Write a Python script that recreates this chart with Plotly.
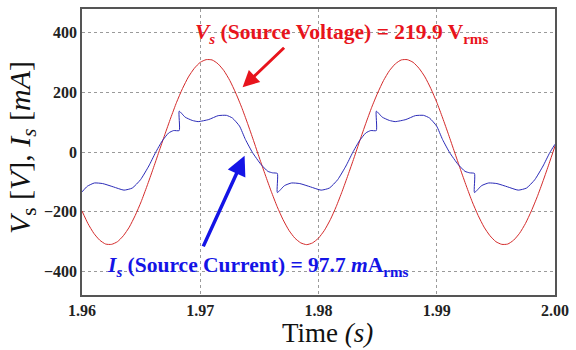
import plotly.graph_objects as go

# ---- data ----
t_v = [round(1.96 + 0.0005 * k, 4) for k in range(81)]
v_s = [-198, -240, -273, -296, -309, -310, -301, -281, -252, -213,
       -167, -114, -58, 0, 58, 114, 167, 213, 252, 281,
       301, 310, 309, 296, 273, 240, 198, 150, 96, 39,
       -20, -77, -132, -183, -227, -263, -289, -305, -311, -305,
       -289, -263, -227, -183, -132, -77, -20, 39, 96, 150,
       198, 240, 273, 296, 309, 310, 301, 281, 252, 213,
       167, 114, 58, 0, -58, -114, -167, -213, -252, -281,
       -301, -310, -309, -296, -273, -240, -198, -150, -96, -39, 20]

t_i = [1.96000, 1.96045, 1.96105, 1.96175, 1.96265, 1.96355, 1.96425, 1.96495,
       1.96565, 1.96622, 1.96678, 1.96733, 1.96775, 1.96822,
       1.96822, 1.96872, 1.96932, 1.96982, 1.97072, 1.97152, 1.97222, 1.97272,
       1.97332, 1.97382, 1.97442, 1.97512, 1.97572, 1.97612, 1.97652,
       1.97652, 1.97712, 1.97772, 1.97842, 1.97932, 1.98022, 1.98092, 1.98162,
       1.98232, 1.98289, 1.98345, 1.98400, 1.98442, 1.98489,
       1.98489, 1.98539, 1.98599, 1.98649, 1.98739, 1.98819, 1.98889, 1.98939,
       1.98999, 1.99049, 1.99109, 1.99179, 1.99239, 1.99279, 1.99319,
       1.99319, 1.99379, 1.99439, 1.99509, 1.99599, 1.99689, 1.99759, 1.99829,
       1.99899, 1.99956, 2.00000]
i_s = [-134, -115, -104, -106, -117, -128, -121, -93,
       -47, -2, 37, 64, 72, 72,
       137, 117, 106, 102, 109, 122, 123, 114,
       87, 42, -2, -41, -65, -70, -72,
       -136, -113, -104, -106, -117, -128, -121, -93,
       -47, -2, 37, 64, 72, 72,
       137, 117, 106, 102, 109, 122, 123, 114,
       87, 42, -2, -41, -65, -70, -72,
       -136, -113, -104, -106, -117, -128, -121, -93,
       -47, -2, 26]

x_ticks = [1.96, 1.97, 1.98, 1.99, 2.00]
x_labels = ["1.96", "1.97", "1.98", "1.99", "2.00"]
y_ticks = [-400, -200, 0, 200, 400]

SERIF = "Liberation Serif, Times New Roman, serif"
RED = "#e8141c"
BLUE = "#1414e6"

fig = go.Figure()
fig.add_trace(go.Scatter(x=t_v, y=v_s, mode="lines",
                         line=dict(color="#d42a2a", width=1, shape="spline", smoothing=0.6),
                         showlegend=False))
fig.add_trace(go.Scatter(x=t_i, y=i_s, mode="lines",
                         line=dict(color="#2b2bb8", width=1, shape="spline", smoothing=0.5),
                         showlegend=False))

axis_common = dict(showgrid=True, gridcolor="#9a9a9a", griddash="dot", gridwidth=1,
                   zeroline=False, showline=True, linecolor="#555555", linewidth=1.5,
                   mirror=True, ticks="",
                   tickfont=dict(family=SERIF, size=16, color="#222222", weight="bold"))
fig.update_xaxes(range=[1.96, 2.00], tickvals=x_ticks, ticktext=x_labels, **axis_common)
fig.update_yaxes(range=[-480, 480], tickvals=y_ticks, **axis_common)


def py(p):
    """pixel row -> paper y (plot area rows 7..295)"""
    return (295 - p) / 288


annotations = [
    dict(x=0.5, y=py(317), xref="paper", yref="paper", showarrow=False,
         text="Time <i>(s)</i>", font=dict(family=SERIF, size=27, color="#111111"),
         xanchor="center", yanchor="top", xshift=9, borderpad=0),
    dict(x=0, y=py(147), xref="paper", yref="paper", showarrow=False, textangle=-90,
         text="<i>V</i><sub>s</sub> [<i>V</i>], <i>I<sub>s</sub></i> [<i>mA</i>]",
         font=dict(family=SERIF, size=30, color="#111111"),
         xanchor="center", yanchor="middle", xshift=-60),
    dict(x=0.549, y=py(32), xref="paper", yref="paper", showarrow=False,
         text="<b><i>V<sub>s</sub></i> (Source Voltage) = 219.9 V<sub>rms</sub></b>",
         font=dict(family=SERIF, size=21.5, color=RED),
         xanchor="center", yanchor="middle"),
    dict(x=0.372, y=py(266), xref="paper", yref="paper", showarrow=False,
         text="<b><i>I<sub>s</sub></i> (Source Current) = 97.7 <i>m</i>A<sub>rms</sub></b>",
         font=dict(family=SERIF, size=21.5, color=BLUE),
         xanchor="center", yanchor="middle"),
    dict(x=1.97358, y=217, xref="x", yref="y", text="", showarrow=True,
         ax=43, ay=-41, arrowcolor=RED, arrowwidth=3, arrowhead=2, arrowsize=1.1),
    dict(x=1.97375, y=-13, xref="x", yref="y", text="", showarrow=True,
         ax=-42, ay=92, arrowcolor=BLUE, arrowwidth=3.5, arrowhead=2, arrowsize=1.1),
]

fig.update_layout(width=576, height=350, margin=dict(l=82, r=14, t=7, b=55),
                  paper_bgcolor="white", plot_bgcolor="white",
                  annotations=annotations)

fig.write_html("out.html")
